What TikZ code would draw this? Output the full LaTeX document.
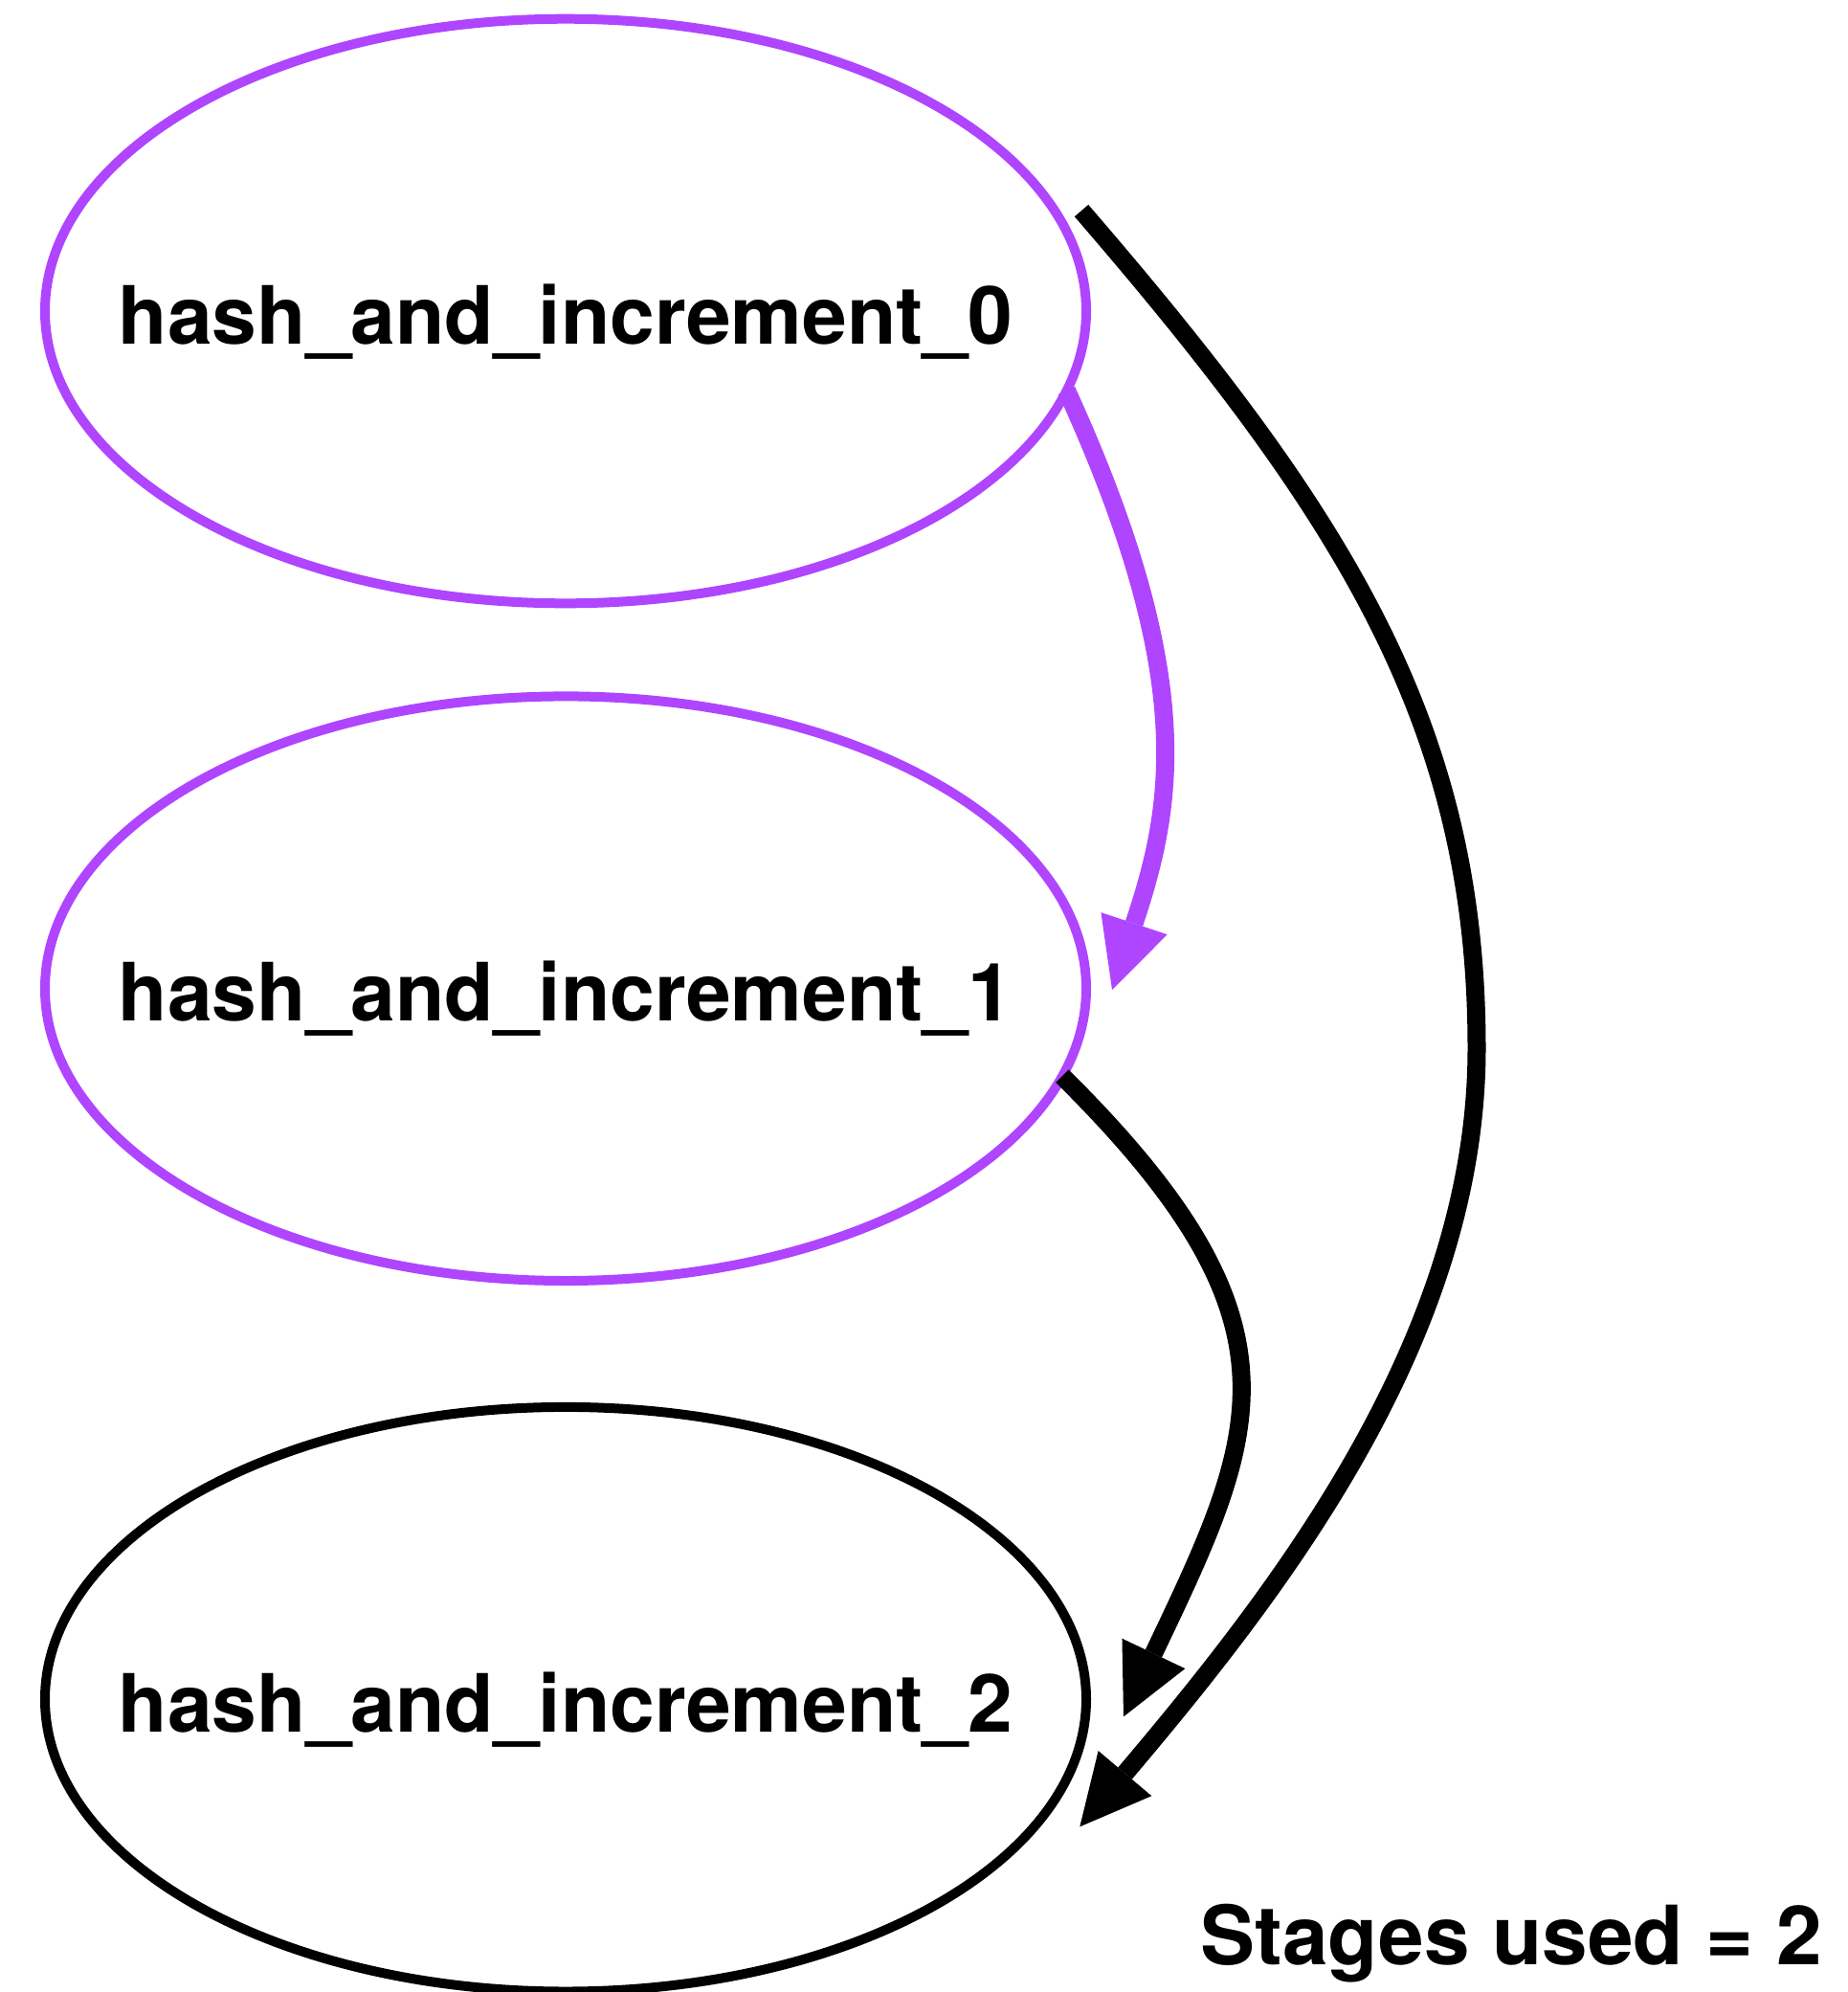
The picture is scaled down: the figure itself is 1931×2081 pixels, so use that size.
\documentclass[tikz,border=0pt]{standalone}
\usepackage{fontspec}
\setmainfont{TeX Gyre Heros}
\usetikzlibrary{shapes.geometric,arrows.meta}
\definecolor{stagepurple}{HTML}{AF45FF}
\begin{document}
\begin{tikzpicture}[x=1pt,y=-1pt,
  labelfont/.style={font=\fontsize{84}{100}\selectfont\bfseries},
  stage/.style={ellipse, draw, line width=10pt,
    minimum width=1088pt, minimum height=610.6pt,
    inner sep=0pt, outer sep=0pt,
    text height=68pt, text depth=0pt, labelfont},
  active/.style={draw=stagepurple},
  dep/.style={line width=19pt,
    -{Triangle[length=73pt,width=73pt,line width=0pt]}},
]
\useasboundingbox (0,0) rectangle (1931,2081);

% pipeline stages
\node[stage, active] (n0) at (591,325)    {\makebox[0pt]{hash\_and\_increment\_0}};
\node[stage, active] (n1) at (591,1032.7) {\makebox[0pt]{hash\_and\_increment\_1}};
\node[stage]         (n2) at (591,1775.2) {\makebox[0pt]{hash\_and\_increment\_2}};

% dependencies
\draw[dep, draw=stagepurple] (n0.-9.2)
  .. controls (1252.6,710) and (1225.2,844.2) .. ([shift={(27,1.3)}]n1.east);
\draw[dep] (n1.-10.3)
  .. controls (1370.8,1382.4) and (1315.9,1495.6) .. ([shift={(39,18.1)}]n2.east);
\coordinate (bend) at (1543,1095);
\draw[dep] ([shift={(25,-5)}]n0.11.4)
  .. controls (1406.4,540.3) and (1543,759) .. (bend)
  .. controls (1543,1395) and (1341.5,1656.5) .. ([shift={(-6.7,133.1)}]n2.east);

% stage count
\node[font=\fontsize{85.5}{100}\selectfont\bfseries, anchor=base west, inner sep=0pt]
  (count) at (1254,2052.6) {Stages used = 2};
\end{tikzpicture}
\end{document}
